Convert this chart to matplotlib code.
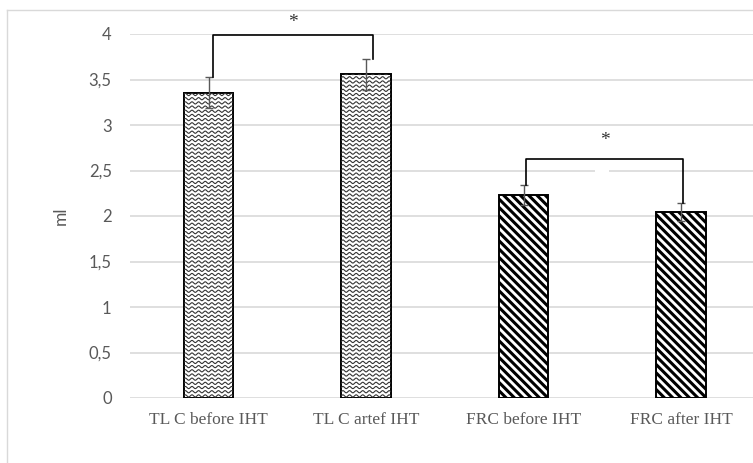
import numpy as np
import matplotlib
matplotlib.use("Agg")
import matplotlib.pyplot as plt
from matplotlib.patches import Rectangle
from matplotlib.lines import Line2D

categories = ["TL C before IHT", "TL C artef IHT", "FRC before IHT", "FRC after IHT"]
values = [3.355, 3.56, 2.23, 2.04]
errors = [0.17, 0.17, 0.11, 0.10]
patterns = ["wave", "wave", "diag", "diag"]
# significance brackets: (left index, right index, bracket height, star height)
brackets = [(0, 1, 3.99, 4.13), (2, 3, 2.63, 2.83)]
bracket_offsets = [(0.028, 0.042), (0.016, 0.011)]
yticks = [0, 0.5, 1, 1.5, 2, 2.5, 3, 3.5, 4]
ytick_labels = ["0", "0,5", "1", "1,5", "2", "2,5", "3", "3,5", "4"]

plt.rcParams["hatch.linewidth"] = 2.2
W, H = 753, 463
fig = plt.figure(figsize=(W / 100, H / 100), dpi=100)

# outer chart border
fig.add_artist(Line2D([7 / W, 1], [1 - 10 / H, 1 - 10 / H], color="#d9d9d9", lw=1.0, transform=fig.transFigure))
fig.add_artist(Line2D([7 / W, 7 / W], [0, 1 - 10 / H], color="#d9d9d9", lw=1.0, transform=fig.transFigure))

left = 129.75 / W
bottom = 65 / H
ax = fig.add_axes([left, bottom, (760 - 129.75) / W, 364 / H])
ax.set_xlim(-0.5, 3.5)
ax.set_ylim(0, 4)
for s in ax.spines.values():
    s.set_visible(False)
ax.set_yticks(yticks)
ax.set_yticklabels(ytick_labels, fontsize=12, color="#595959", family="Lato")
ax.tick_params(axis="both", length=0)
ax.tick_params(axis="y", pad=13)
ax.set_xticks(range(len(categories)))
ax.set_xticklabels(categories, fontsize=12.5, color="#595959", family="Liberation Serif")
ax.tick_params(axis="x", pad=10)
ax.yaxis.grid(True, color="#d9d9d9", lw=1.2)
ax.set_axisbelow(True)
ax.set_ylabel("ml", fontsize=12.5, color="#595959", family="Lato")
ax.yaxis.set_label_coords((69 - 129.75) / (760 - 129.75), 0.5)

x = np.arange(len(categories))
bw = 0.315
bars = ax.bar(x, values, width=bw, color="white", edgecolor="black", linewidth=1.4, zorder=2)
for b, p in zip(bars, patterns):
    if p == "diag":
        b.set_hatch("\\\\\\\\")
    else:
        x0 = b.get_x()
        x1 = x0 + b.get_width()
        hgt = b.get_height()
        xs = np.linspace(x0, x1, 300)
        period = 0.042
        amp = 0.012
        step = 0.046
        for row in np.arange(step / 2, hgt + step, step):
            ys = row + amp * np.sin(2 * np.pi * (xs - x0) / period)
            ln, = ax.plot(xs, ys, color="#333333", lw=0.8, zorder=2.5)
            ln.set_clip_path(b)

ax.errorbar(x, values, yerr=errors, fmt="none", ecolor="#595959", elinewidth=1.0, capsize=3, capthick=1.0, zorder=3)

# gap in 2.5 gridline
ax.add_patch(Rectangle((2.455, 2.47), 0.088, 0.06, facecolor="white", edgecolor="none", zorder=1.5))

for (i, j, top, star_y), (oi, oj) in zip(brackets, bracket_offsets):
    xi = i + oi
    xj = j + oj
    ax.plot([xi, xi, xj, xj], [values[i] + errors[i], top, top, values[j] + errors[j]],
            color="black", lw=1.2, zorder=4, clip_on=False)
    ax.text((xi + xj) / 2, star_y, "*", ha="center", va="center", fontsize=14,
            color="#333333", family="Liberation Serif", clip_on=False)

fig.savefig("out.png", dpi=100)
